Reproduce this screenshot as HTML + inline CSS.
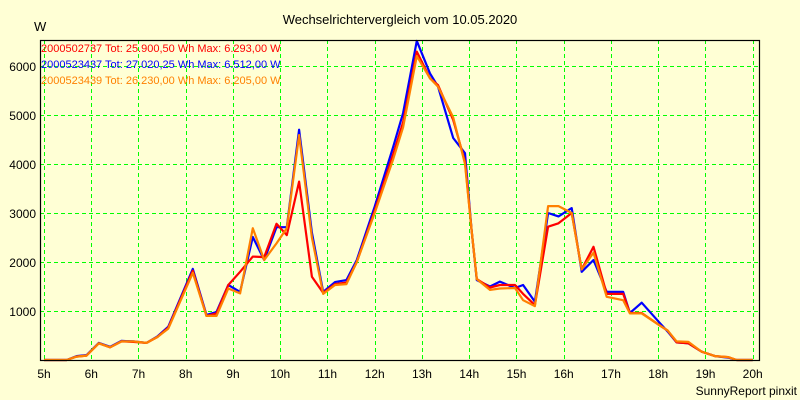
<!DOCTYPE html>
<html><head><meta charset="utf-8"><style>
body{margin:0;background:#ffffd5;}
svg{display:block;font-family:"Liberation Sans",sans-serif;}
</style></head><body>
<svg id="chart" width="800" height="400" viewBox="0 0 800 400">
<rect x="0" y="0" width="800" height="400" fill="#ffffd5"/>
<text x="400" y="24" text-anchor="middle" font-size="13">Wechselrichtervergleich vom 10.05.2020</text>
<text x="34" y="31" font-size="13">W</text>
<text x="797" y="395" text-anchor="end" font-size="12">SunnyReport pinxit</text>
<g id="grid"></g><g id="series"></g><g id="axes"></g><g id="legend"></g>
</svg>
<script>
const times=[5.0,5.48,5.69,5.9,6.16,6.4,6.64,6.89,7.17,7.4,7.63,8.15,8.44,8.65,8.9,9.15,9.42,9.66,9.92,10.14,10.4,10.67,10.91,11.16,11.4,11.62,12.0,12.39,12.6,12.89,13.17,13.34,13.66,13.91,14.05,14.16,14.44,14.65,14.97,15.14,15.39,15.67,15.89,16.17,16.38,16.63,16.91,17.26,17.4,17.65,18.04,18.2,18.39,18.64,18.92,19.2,19.48,19.66,20.0];
const blueVals=[0,0,80,100,350,270,390,380,350,480,680,1860,920,980,1530,1390,2510,2040,2710,2710,4700,2600,1390,1590,1630,2040,3130,4350,5040,6512,5850,5580,4530,4220,2650,1630,1500,1600,1470,1530,1190,3000,2930,3100,1800,2040,1390,1390,960,1170,750,580,360,340,170,80,50,0,0];
const redVals=[0,0,70,90,340,260,380,370,350,470,660,1820,900,950,1530,1800,2110,2100,2780,2550,3640,1700,1370,1550,1580,2000,3050,4200,4850,6293,5750,5610,4900,4050,2650,1650,1480,1530,1530,1350,1120,2720,2790,3000,1850,2310,1350,1350,960,960,700,600,360,340,170,80,60,0,0];
const orangeVals=[0,0,70,90,340,260,380,380,350,470,640,1780,900,900,1460,1360,2690,2040,2380,2690,4590,2500,1350,1530,1550,2000,3000,4100,4750,6205,5750,5580,4950,4000,2650,1650,1430,1460,1470,1220,1100,3140,3140,3000,1850,2190,1290,1220,950,950,700,600,380,370,170,80,60,0,0];
const xTicks=[5,6,7,8,9,10,11,12,13,14,15,16,17,18,19,20];
const yTicks=[1000,2000,3000,4000,5000,6000];
const legendLabels=["2000502737 Tot: 25.900,50 Wh Max: 6.293,00 W","2000523437 Tot: 27.020,25 Wh Max: 6.512,00 W","2000523439 Tot: 26.230,00 Wh Max: 6.205,00 W"];
const NS="http://www.w3.org/2000/svg";
const L=40,T=40,R=759,B=360;
function xS(t){return 44+(t-5)*(752.7-44)/15;}
function yS(v){return 360-v*49/1000;}
function mk(tag,attrs,parent){const e=document.createElementNS(NS,tag);for(const k in attrs)e.setAttribute(k,attrs[k]);parent.appendChild(e);return e;}
const grid=document.getElementById('grid'),axes=document.getElementById('axes'),ser=document.getElementById('series'),leg=document.getElementById('legend');
xTicks.forEach(h=>{
  const x=Math.round(xS(h))+0.5;
  const g=mk('line',{x1:x,y1:T,x2:x,y2:B,stroke:'#00ff00','stroke-width':1,'stroke-dasharray':'4,3'},grid);
  
  
  const t=mk('text',{x:xS(h),y:378,'text-anchor':'middle','font-size':12},axes);
  t.textContent=h+'h';
  
  
});
yTicks.forEach(v=>{
  const y=Math.round(yS(v))+0.5;
  const g=mk('line',{x1:L,y1:y,x2:R,y2:y,stroke:'#00ff00','stroke-width':1,'stroke-dasharray':'4,3'},grid);
  
  
  const t=mk('text',{x:36,y:yS(v)+5,'text-anchor':'end','font-size':12},axes);
  t.textContent=v;
  
  
});
const frame=mk('rect',{x:L+0.5,y:T+0.5,width:R-L,height:B-T,fill:'none',stroke:'#000','stroke-width':1.2},axes);


const series=[[blueVals,'#0000ff','series-2000523437'],[redVals,'#ff0000','series-2000502737'],[orangeVals,'#ff8000','series-2000523439']];
series.forEach(s=>{
  const pts=times.map((t,i)=>xS(t).toFixed(1)+','+yS(s[0][i]).toFixed(1)).join(' ');
  const p=mk('polyline',{points:pts,fill:'none',stroke:s[1],'stroke-width':2.2,'stroke-linejoin':'round'},ser);
  
  
});
const legCols=['#ff0000','#0000ff','#ff8000'];
legendLabels.forEach((lab,i)=>{
  const t=mk('text',{x:41,y:52+i*16,'font-size':11,fill:legCols[i]},leg);
  t.textContent=lab;
  
  
});
</script>
</body></html>
